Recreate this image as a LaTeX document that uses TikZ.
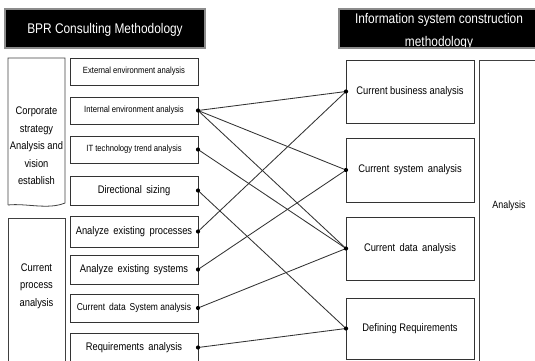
\documentclass[tikz,border=0pt]{standalone}
\usepackage{fontspec}
\setmainfont{Liberation Sans}[FakeStretch=0.85]
\newcommand\wsp{\hspace{0.4em}}
\begin{document}
\begin{tikzpicture}[x=1pt,y=-1pt,
  every node/.style={inner sep=0pt, outer sep=0pt},
  hdrfill/.style={fill=black},
  hdrline/.style={draw=black!45, line width=1.3pt},
  hdrtext/.style={text=white, font=\fontsize{14}{16}\selectfont},
  lbox/.style={draw=black!75, line width=0.8pt},
  mbox/.style={draw=black!80, line width=0.7pt, minimum width=128pt, fill=white},
  rbox/.style={draw=black!80, line width=0.9pt, minimum width=128pt, fill=white},
  lbl/.style={align=center, font=\fontsize{11}{17.5}\selectfont},
  link/.style={draw=black!80, line width=0.85pt},
  pin/.style={fill=black}
]
\useasboundingbox (0,0) rectangle (535,361);
\begin{scope}
\clip (0,0) rectangle (535,361);

% column headers
\path[hdrfill] (5,9) rectangle (205,48);
\node[hdrtext] (bpr) at (105,30) {BPR Consulting Methodology};
\path[hdrline] (5,9) rectangle (205,48);

\path[hdrfill] (339,9) rectangle (545,48);
\node[hdrtext] (isc1) at (439,20) {Information system construction};
\node[hdrtext] (isc2) at (439,43) {methodology};
\path[hdrline] (339,9) rectangle (545,48);

% left phase boxes
\draw[lbox] (8,205) -- (8,58) -- (65,58) -- (65,203)
  .. controls (48,210) and (26,203) .. (8,205);
\node[lbl] (corp) at (36.5,146) {Corporate\\strategy\\Analysis and\\vision\\establish};
\draw[lbox] (8,375) -- (8,218) -- (65,218) -- (65,375);
\node[lbl] (cur) at (36.5,286) {Current\\process\\analysis};

% BPR activities
\node[mbox, minimum height=27pt, font=\fontsize{9}{11}\selectfont] (ext) at (134,71.5) {External environment analysis};
\node[mbox, minimum height=27pt, font=\fontsize{9}{11}\selectfont] (int) at (134,110.5) {Internal environment analysis};
\node[mbox, minimum height=27pt, font=\fontsize{9}{11}\selectfont] (itt) at (134,149.5) {IT technology trend analysis};
\node[mbox, minimum height=29pt, font=\fontsize{11}{13}\selectfont] (dir) at (134,190.5) {Directional\wsp sizing};
\node[mbox, minimum height=31pt, font=\fontsize{11}{13}\selectfont] (aep) at (134,231.5) {Analyze\wsp existing\wsp processes};
\node[mbox, minimum height=29pt, font=\fontsize{11}{13}\selectfont] (aes) at (134,269.5) {Analyze\wsp existing\wsp systems};
\node[mbox, minimum height=28pt, font=\fontsize{10}{12}\selectfont] (cds) at (134,308) {Current\wsp data\wsp System analysis};
\node[mbox, minimum height=29pt, font=\fontsize{11}{13}\selectfont] (req) at (134,347.5) {Requirements\wsp analysis};

% information system activities
\node[rbox, minimum height=63pt, font=\fontsize{11}{13}\selectfont] (cba) at (410,91.5) {Current business analysis};
\node[rbox, minimum height=64pt, font=\fontsize{11}{13}\selectfont] (csa) at (410,170) {Current\wsp system\wsp analysis};
\node[rbox, minimum height=63pt, font=\fontsize{11}{13}\selectfont] (cda) at (410,248.5) {Current\wsp data\wsp analysis};
\node[rbox, minimum height=61pt, font=\fontsize{11}{13}\selectfont] (drq) at (410,328.5) {Defining Requirements};

% analysis phase
\draw[lbox] (479,375) -- (479,60) -- (545,60);
\node[font=\fontsize{10.5}{12}\selectfont] (ana) at (509,206) {Analysis};

% connectors
\foreach \a/\b in {int/cba, int/csa, int/cda, itt/cda, dir/drq,
                   aep/cba, aes/csa, cds/cda, req/drq}
  \draw[link] (\a.east) -- (\b.west);
\foreach \a in {int, itt, dir, aep, aes, cds, req}
  \fill[pin] (\a.east) circle (2.1pt);
\foreach \b in {cba, csa, cda, drq}
  \fill[pin] (\b.west) circle (2.1pt);
\end{scope}
\end{tikzpicture}
\end{document}
